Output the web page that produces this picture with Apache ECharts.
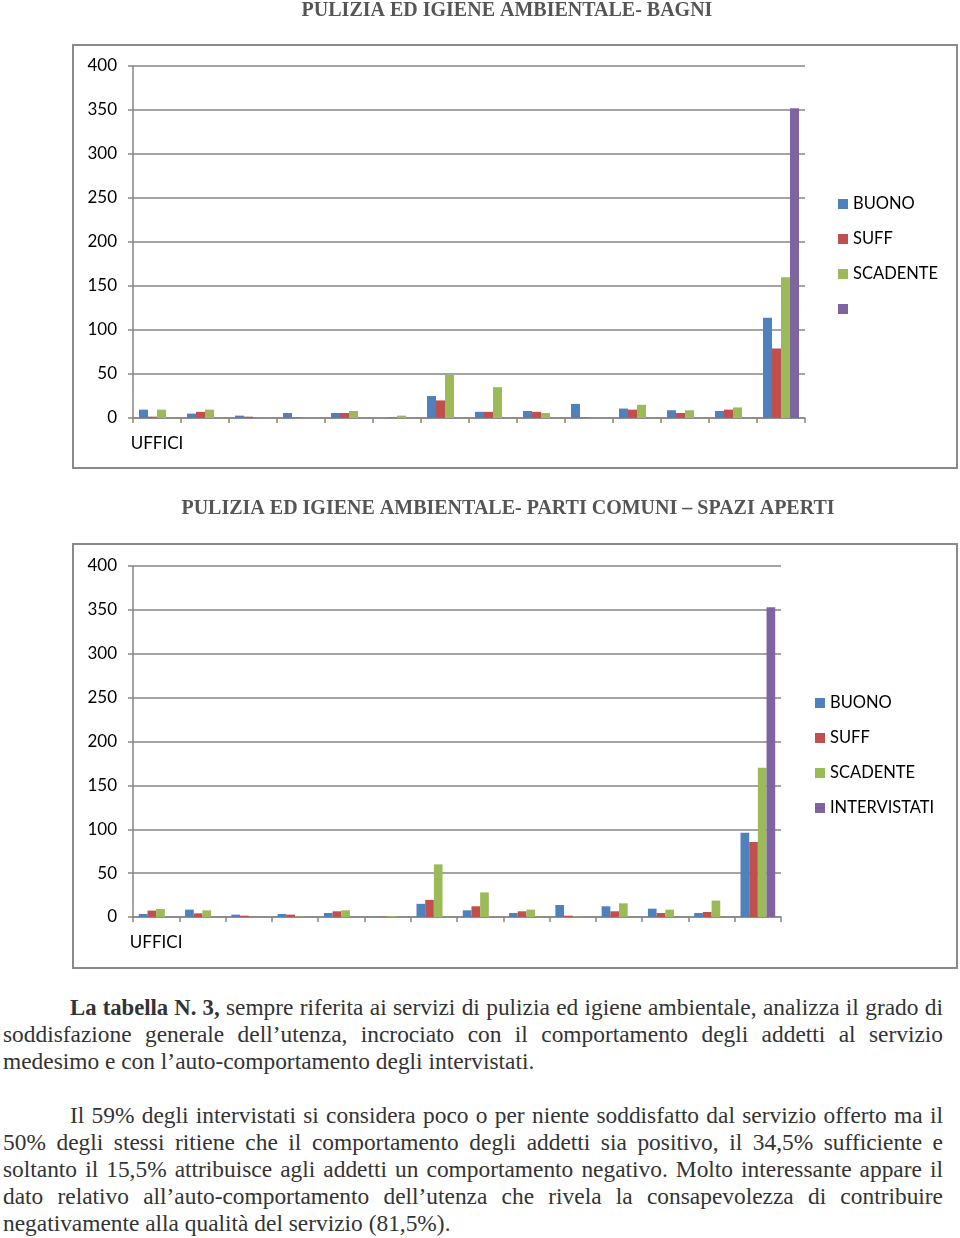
<!DOCTYPE html>
<html><head><meta charset="utf-8">
<script src="https://cdn.jsdelivr.net/npm/echarts@6/dist/echarts.min.js"></script>
<style>
html,body{margin:0;padding:0;background:#fff;width:960px;height:1238px;overflow:hidden;}
#chart{position:absolute;left:0;top:0;width:960px;height:990px;}
#text{position:absolute;left:3px;top:994px;width:940px;font-family:"Liberation Serif","DejaVu Serif",serif;font-size:23.4px;line-height:27px;color:#333;}
#text b{font-size:22.7px;}
#text div{height:27px;white-space:nowrap;text-align:justify;text-align-last:justify;}
#text div.last{text-align-last:left;}
#text div.ind{padding-left:67px;}
#text div.gap{height:27px;}
</style></head><body>
<div id="chart"></div>
<div id="text">
<div class="ind"><b>La tabella N. 3,</b> sempre riferita ai servizi di pulizia ed igiene ambientale, analizza il grado di</div>
<div>soddisfazione generale dell’utenza, incrociato con il comportamento degli addetti al servizio</div>
<div class="last">medesimo e con l’auto-comportamento degli intervistati.</div>
<div class="gap"></div>
<div class="ind">Il 59% degli intervistati si considera poco o per niente soddisfatto dal servizio offerto ma il</div>
<div>50% degli stessi ritiene che il comportamento degli addetti sia positivo, il 34,5% sufficiente e</div>
<div>soltanto il 15,5% attribuisce agli addetti un comportamento negativo. Molto interessante appare il</div>
<div>dato relativo all’auto-comportamento dell’utenza che rivela la consapevolezza di contribuire</div>
<div class="last">negativamente alla qualità del servizio (81,5%).</div>
</div>
<script>
const title1 = 'PULIZIA ED IGIENE AMBIENTALE- BAGNI';
const title2 = 'PULIZIA ED IGIENE AMBIENTALE- PARTI COMUNI – SPAZI APERTI';
const categories = ['UFFICI','','','','','','','','','','','','',''];
const seriesNames1 = ['BUONO','SUFF','SCADENTE',' '];
const seriesNames2 = ['BUONO','SUFF','SCADENTE','INTERVISTATI'];
// Chart 1 - BAGNI
const bagniBuono      = [9.5, 5, 2.7, 5.7, 5.7, 0, 25, 7, 8, 16, 10.7, 8.8, 8, 114];
const bagniSuff       = [1.5, 7, 1.5, 0.5, 5.7, 0.5, 20, 7, 7, 0.5, 9.5, 5.7, 9.5, 79];
const bagniScadente   = [9.5, 9.5, 0, 0, 8, 2.7, 49, 35, 5.7, 0, 15, 8.8, 12, 160];
const bagniIntervist  = [0, 0, 0, 0, 0, 0, 0, 0, 0, 0, 0, 0, 0, 352];
// Chart 2 - PARTI COMUNI
const comuniBuono     = [3.4, 8.4, 2.7, 3.4, 4.6, 0.3, 15, 7.6, 4.6, 13.7, 12.2, 9.5, 4.6, 96];
const comuniSuff      = [7.3, 4.2, 1.5, 2.7, 6.5, 0.3, 19.5, 12.2, 6.5, 1.5, 6.5, 4.6, 5.7, 85.5];
const comuniScadente  = [9.2, 7.6, 0, 0.3, 7.6, 1, 60, 28, 8.4, 0.3, 15.6, 8.4, 18.7, 170];
const comuniIntervist = [0, 0, 0, 0, 0, 0, 0, 0, 0, 0, 0, 0, 0, 353];
const yTicks = [0, 50, 100, 150, 200, 250, 300, 350, 400];

const colors = ['#4F81BD','#C0504D','#9BBB59','#8064A2'];
const fontSans = 'Lato, "Open Sans", sans-serif';
const axisGray = '#868686';

function xAxis(grid){
  return {type:'category', gridIndex:grid, data:categories,
    axisLine:{lineStyle:{color:axisGray,width:1.5}},
    axisTick:{show:true,interval:0,length:5,lineStyle:{color:axisGray,width:1.5}},
    axisLabel:{interval:0,color:'#000',fontFamily:fontSans,fontSize:17,margin:17}};
}
function yAxis(grid){
  return {type:'value', gridIndex:grid, min:yTicks[0], max:yTicks[yTicks.length-1], interval:50,
    axisLine:{show:true,lineStyle:{color:axisGray,width:1.5}},
    axisTick:{show:true,length:5,lineStyle:{color:axisGray,width:1.5}},
    splitLine:{lineStyle:{color:axisGray,width:1.5}},
    axisLabel:{color:'#000',fontFamily:fontSans,fontSize:17,margin:16}};
}
function bars(names, arrays, idx){
  return arrays.map((d,i)=>({type:'bar', name:names[i], data:d, xAxisIndex:idx, yAxisIndex:idx,
    barGap:'0%', barCategoryGap:'25%', itemStyle:{color:colors[i]}, animation:false}));
}
const legendText = {color:'#000',fontFamily:fontSans,fontSize:16.5,lineHeight:20};
const titleStyle = {fontFamily:'"Liberation Serif",serif',fontWeight:'bold',fontSize:20,fill:'#555',textAlign:'center',textVerticalAlign:'middle'};

const chart = echarts.init(document.getElementById('chart'), null, {renderer:'canvas'});
chart.setOption({
  animation:false,
  graphic:[
    {type:'text',x:507,y:11,style:Object.assign({text:title1},titleStyle)},
    {type:'text',x:508,y:509,style:Object.assign({text:title2},titleStyle)},
    {type:'rect',shape:{x:73,y:45,width:884,height:423},style:{fill:'none',stroke:'#8a8a8a',lineWidth:2}},
    {type:'rect',shape:{x:73,y:544,width:884,height:424},style:{fill:'none',stroke:'#8a8a8a',lineWidth:2}}
  ],
  grid:[
    {left:133,top:66,width:672,height:352},
    {left:133,top:566,width:648,height:351}
  ],
  xAxis:[xAxis(0),xAxis(1)],
  yAxis:[yAxis(0),yAxis(1)],
  legend:[
    {orient:'vertical',left:833,top:189,itemWidth:10,itemHeight:10,itemGap:15,icon:'rect',textStyle:legendText,
     data:seriesNames1.map(n=>({name:n})), selectedMode:false},
    {orient:'vertical',left:810,top:688,itemWidth:10,itemHeight:10,itemGap:15,icon:'rect',textStyle:legendText,
     data:seriesNames2.map(n=>({name:n})), selectedMode:false}
  ],
  series:[
    ...bars(seriesNames1,[bagniBuono,bagniSuff,bagniScadente,bagniIntervist],0),
    ...bars(seriesNames2,[comuniBuono,comuniSuff,comuniScadente,comuniIntervist],1)
  ]
});
</script>
</body></html>
